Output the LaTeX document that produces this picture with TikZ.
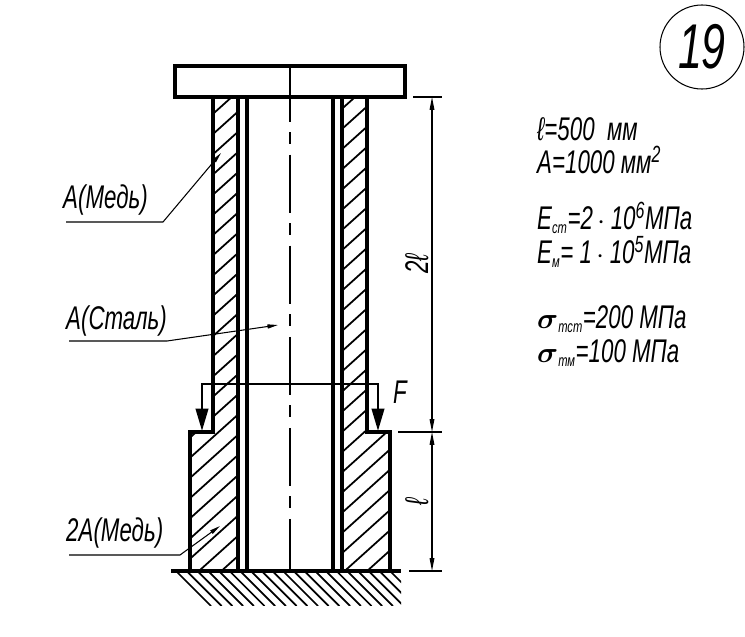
\documentclass[tikz,border=0pt]{standalone}
\usepackage{amsmath}
\usepackage{fontspec}
\setmainfont[FakeStretch=0.68,ItalicFont={Liberation Sans Italic}]{Liberation Sans}
\usetikzlibrary{arrows.meta}
\tikzset{
	contour/.style={black, line width=2.8pt},
	hatch/.style={black, line width=1.5pt},
	thin line/.style={black, line width=0.9pt},
	force/.style={black, line width=2.4pt, {Triangle[length=19pt,width=10.5pt]}-{Triangle[length=19pt,width=10.5pt]}},
	dim line/.style={black, line width=0.9pt, {Triangle[length=11pt,width=4pt]}-{Triangle[length=11pt,width=4pt]}},
	leader/.style={black, line width=0.9pt, -{Triangle[length=9pt,width=3.5pt]}},
	label/.style={inner sep=0pt, anchor=base west, font=\fontsize{28}{28}\selectfont\itshape},
}
\newcommand{\lsym}{ℓ}
\newcommand{\lowtext}[1]{$_{\text{\fontsize{14}{14}\selectfont\itshape #1}}$}
\newcommand{\hightext}[1]{$^{\text{\fontsize{20}{20}\selectfont\itshape #1}}$}
\begin{document}
\begin{tikzpicture}[x=0.03cm, y=-0.03cm]
	\useasboundingbox (0,0) rectangle (745,637);
	% hatching of the copper parts
	\begin{scope}
		\clip (213,97) rectangle (238,432) (190,432) rectangle (238,571);
		\foreach \k in {-17,...,9}
			\draw[hatch] (180,{608.6+\k*20.2-162}) -- (245,{608.6+\k*20.2-220.5});
	\end{scope}
	\begin{scope}
		\clip (342,97) rectangle (367,432) (342,432) rectangle (390,571);
		\foreach \k in {-18,...,8}
			\draw[hatch] (335,{760+\k*20.2-301.5}) -- (395,{760+\k*20.2-355.5});
	\end{scope}
	% plate
	\draw[contour] (175,66) rectangle (405,97);
	% walls
	\draw[contour] (213,97) -- (213,432) -- (190,432) -- (190,571);
	\draw[contour] (238,97) -- (238,571);
	\draw[contour] (247,97) -- (247,571);
	\draw[contour] (333,97) -- (333,571);
	\draw[contour] (342,97) -- (342,571);
	\draw[contour] (367,97) -- (367,432) -- (390,432) -- (390,571);
	% axis
	\draw[black, line width=1.9pt, dash pattern=on 49.5pt off 9.1pt on 10pt off 9.1pt, dash phase=2pt] (290,66) -- (290,571);
	% ground
	\draw[contour] (171,571) -- (401,571);
	\begin{scope}
		\clip (170,572) rectangle (401,605);
		\foreach \x in {176,186.7,...,400}
			\draw[hatch] (\x,571) -- ({\x+35},606);
	\end{scope}
	% force F
	\coordinate (Fl) at (202,384);
	\coordinate (Fr) at (378,384);
	\coordinate (FlEnd) at (202,431);
	\coordinate (FrEnd) at (378,431);
	\draw[force] (FlEnd) -- (Fl) -- (Fr) -- (FrEnd);
	\node[label] (forceF) at (393,403) {F};
	% dimensions
	\coordinate (dimTop) at (432,97);
	\coordinate (dimMid) at (432,432);
	\coordinate (dimBot) at (432,571);
	\draw[thin line] (413,97) -- (442,97);
	\draw[thin line] (398,432) -- (442,432);
	\draw[thin line] (409,571) -- (442,571);
	\draw[dim line] (dimTop) -- (dimMid);
	\draw[dim line] (dimMid) -- (dimBot);
	\node[label, anchor=base, rotate=90] (lenTwo) at (428,264) {2\lsym};
	\node[label, anchor=base, rotate=90] (lenOne) at (428,502) {\lsym};
	% leaders
	\node[label] (copperA) at (63,208) {A(Медь)};
	\node[label] (steelA) at (66,329) {A(Сталь)};
	\node[label] (copperTwo) at (66,541) {2A(Медь)};
	\draw[leader] (66,222) -- (163,222) -- (221,153);
	\draw[leader] (69,341) -- (167,341) -- (278,325);
	\draw[leader] (69,555) -- (180,555) -- (220,526);
	% number
	\node[draw, circle, line width=0.9pt, minimum size=2.52cm, inner sep=0pt, font=\fontsize{54}{54}\selectfont\itshape] (taskNo) at (702,47) {19};
	% data
	\node[label] (dataL) at (537,140) {\lsym=500\ \ мм};
	\node[label] (dataA) at (537,173) {A=1000 мм\hightext{2}};
	\node[label] (dataEs) at (537,229) {E\lowtext{ст}=2$\,\cdot\,$10\hightext{6}МПа};
	\node[label] (dataEc) at (537,263) {E\lowtext{м}= 1$\,\cdot\,$10\hightext{5}МПа};
	\node[label] (dataSs) at (537,328) {$\boldsymbol{\sigma}$\lowtext{тст}=200 МПа};
	\node[label] (dataSc) at (537,362) {$\boldsymbol{\sigma}$\lowtext{тм}=100 МПа};
\end{tikzpicture}
\end{document}
